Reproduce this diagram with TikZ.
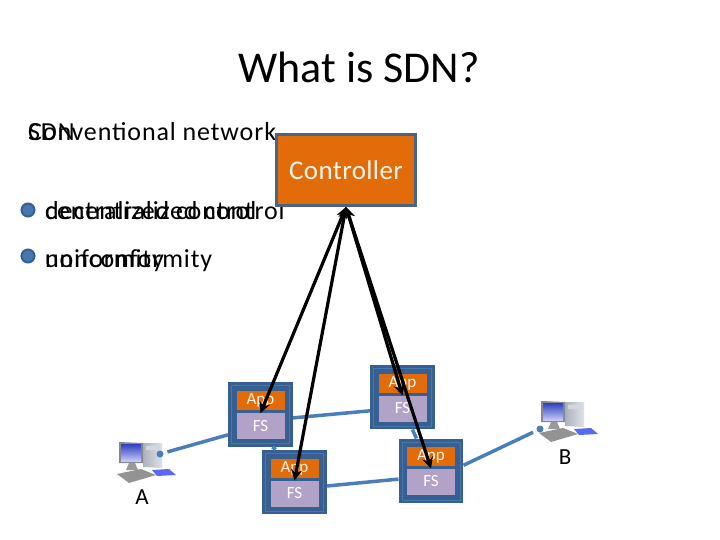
\documentclass[tikz,border=0pt]{standalone}
\usepackage{fontspec}
\setmainfont{Carlito}
\usetikzlibrary{arrows.meta,positioning,shadings}
\definecolor{ctrlorange}{RGB}{227,108,10}
\definecolor{ctrlborder}{RGB}{72,100,135}
\definecolor{swdark}{RGB}{55,96,146}
\definecolor{swline}{RGB}{72,118,175}
\definecolor{fsviolet}{RGB}{179,162,199}
\definecolor{linkblue}{RGB}{74,126,187}
\definecolor{pcsilver}{RGB}{190,196,208}
\definecolor{pcscreen}{RGB}{60,80,235}

\begin{document}
\begin{tikzpicture}[
    x=1pt, y=-1pt,
    titletext/.style={font=\fontsize{44}{50}\selectfont, inner sep=0pt},
    bodytext/.style={anchor=base west, inner sep=0pt, font=\fontsize{26}{30}\selectfont\addfontfeature{LetterSpace=3.4}},
    bullet/.style={circle, draw=swdark, line width=2pt, fill=swline, minimum size=13pt, inner sep=0pt},
    ctrlbox/.style={rectangle, draw=ctrlborder, line width=3pt, fill=ctrlorange, text=white!92!orange,
                 minimum width=139pt, minimum height=71pt, font=\fontsize{27}{32}\selectfont\addfontfeature{LetterSpace=1.5}},
    swbox/.style={rectangle, draw=swdark, fill=swdark, line width=3pt, double=swline, double distance=0.8pt,
                 minimum width=58pt, minimum height=58pt, outer sep=3.5pt},
    appbox/.style={rectangle, fill=ctrlorange, text=white!90!orange, minimum width=48pt, minimum height=19pt,
                 inner sep=0pt, outer sep=0pt, font=\fontsize{17}{20}\selectfont},
    fsbox/.style={appbox, fill=fsviolet, text=white, minimum height=26pt},
    link/.style={linkblue, line width=3.5pt},
    ctrlarr/.style={{Stealth[length=11pt,width=11pt]}-{Stealth[length=11pt,width=11pt]}, line width=3.2pt, black},
    hostlabel/.style={inner sep=0pt, font=\fontsize{23}{27}\selectfont},
    hostdot/.style={circle, fill=linkblue, minimum size=7pt, inner sep=0pt},
    computer/.pic={
        \shade[left color=pcsilver!90!black, right color=pcsilver!50] (24,1) -- (43,1) -- (43,26) -- (24,25) -- cycle;
        \fill[pcsilver!70!white] (27,4) -- (41,3) -- (41,8) -- (27,8) -- cycle;
        \fill[pcsilver!70!black] (0,0) -- (24,1) -- (24,21) -- (0,21) -- cycle;
        \shade[top color=pcscreen!80!black, bottom color=pcscreen!30!white] (2,2) -- (22,2) -- (22,19) -- (2,19) -- cycle;
        \fill[gray!80] (10,21) -- (16,21) -- (19,28) -- (7,28) -- cycle;
        \fill[gray!85] (-2,32) -- (22,27) -- (37,33) -- (10,41) -- cycle;
        \fill[pcscreen!85] (33,28) -- (50,27) -- (57,33) -- (38,34) -- cycle;
    }
]
\useasboundingbox (0,0) rectangle (720,540);
\fill[white] (0,0) rectangle (720,540);

\node[titletext] (title) at (359,67) {What is SDN?};
\node[bodytext] (conv) at (28,141) {Conventional network};
\node[bodytext] (sdn) at (28,141) {SDN};
\node[bullet] (b1) at (28,210) {};
\node[bullet] (b2) at (28,256) {};
\node[bodytext] (decen) at (45,220) {decentralized control};
\node[bodytext] (cen) at (45,220) {centralized control};
\node[bodytext] (nonconf) at (45,267) {nonconformity};
\node[bodytext] (unif) at (45,267) {uniformity};

\node[ctrlbox] (ctrl) at (346,170) {Controller};

\pic at (119,442) {computer};
\pic at (541,401) {computer};
\node[hostdot] (dota) at (160,454) {};
\node[hostdot] (dotb) at (540,429) {};
\node[hostlabel] (hosta) at (142,497) {A};
\node[hostlabel] (hostb) at (565,457) {B};

\node[swbox] (s1) at (260.5,414.5) {};
\node[appbox, below=9pt of s1.north] (s1app) {App};
\node[fsbox, below=3pt of s1app] (s1fs) {FS};
\node[swbox] (s2) at (294.5,482) {};
\node[appbox, below=9pt of s2.north] (s2app) {App};
\node[fsbox, below=3pt of s2app] (s2fs) {FS};
\node[swbox] (s3) at (402.5,397) {};
\node[appbox, below=9pt of s3.north] (s3app) {App};
\node[fsbox, below=3pt of s3app] (s3fs) {FS};
\node[swbox] (s4) at (431,471) {};
\node[appbox, below=8pt of s4.north] (s4app) {App};
\node[fsbox, below=3pt of s4app] (s4fs) {FS};

\draw[link, shorten <=4pt] (dota)--(s1.212);
\draw[link] (s1.-6)--(s3.203);
\draw[link] (s1.-70)--(s2.120);
\draw[link] (s2.-7)--(s4.194);
\draw[link] (s3.-73)--(s4.114);
\draw[link, shorten >=4pt] (s4.10)--(dotb);

\draw[ctrlarr] (ctrl.south)--(s1fs.north);
\draw[ctrlarr] (ctrl.south)--(s2fs.north);
\draw[ctrlarr] (ctrl.south)--(s3fs.north);
\draw[ctrlarr] (ctrl.south)--(s4fs.north);
\end{tikzpicture}
\end{document}
